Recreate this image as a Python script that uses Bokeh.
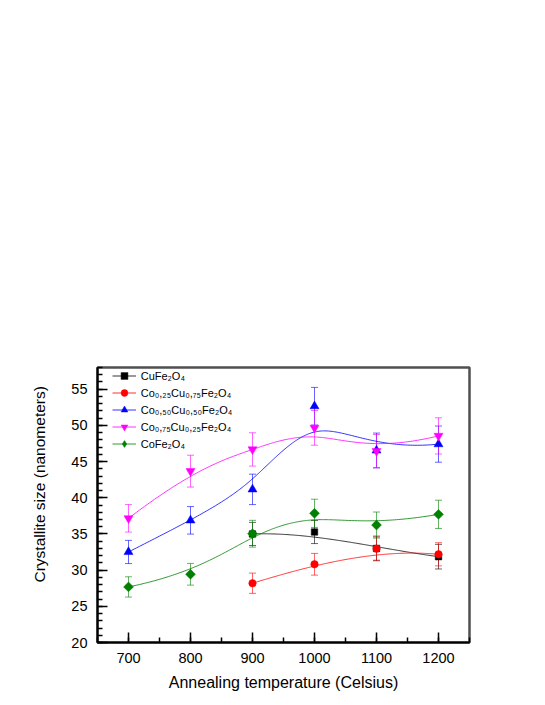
import numpy as np
from bokeh.plotting import figure
from bokeh.models import (ColumnDataSource, Whisker, TeeHead, Legend, LegendItem,
                          SingleIntervalTicker, Title, Range1d)
from bokeh.embed import file_html
from bokeh.resources import INLINE

# ---------------- data ----------------
temps_all = [700, 800, 900, 1000, 1100, 1200]
temps_cu = [900, 1000, 1100, 1200]

cu_vals = [35.0, 35.27, 33.0, 31.86]
cu_err = [1.6, 1.6, 1.7, 1.7]

co25_vals = [28.19, 30.81, 32.97, 32.19]
co25_err = [1.4, 1.5, 1.6, 1.6]

co50_vals = [32.51, 36.88, 41.16, 52.65, 46.54, 47.41]
co50_err = [1.6, 1.9, 2.1, 2.6, 2.4, 2.5]

co75_vals = [37.16, 43.68, 46.68, 49.66, 46.44, 48.55]
co75_err = [1.9, 2.2, 2.3, 2.4, 2.3, 2.5]

cofe_vals = [27.68, 29.43, 35.03, 37.85, 36.23, 37.71]
cofe_err = [1.4, 1.5, 1.85, 1.95, 1.8, 1.95]

labels = ["CuFe₂O₄", "Co₀,₂₅Cu₀,₇₅Fe₂O₄", "Co₀,₅₀Cu₀,₅₀Fe₂O₄",
          "Co₀,₇₅Cu₀,₂₅Fe₂O₄", "CoFe₂O₄"]

x_ticks_interval = 100
y_ticks_interval = 5


def bspline(xs, ys, num=200):
    """Clamped cubic B-spline using the data points as control points."""
    P = np.column_stack([xs, ys]).astype(float)
    n = len(P)
    k = 3
    spans = n - k
    knots = np.r_[np.zeros(k), np.arange(spans + 1), np.full(k, spans)].astype(float)
    ts = np.linspace(0, spans, num)
    out = []
    for t in ts:
        i = int(np.searchsorted(knots, t, side="right") - 1)
        i = min(i, n - 1)
        d = [P[j + i - k].copy() for j in range(k + 1)]
        for r in range(1, k + 1):
            for j in range(k, r - 1, -1):
                den = knots[j + 1 + i - r] - knots[j + i - k]
                a = 0.0 if den == 0 else (t - knots[j + i - k]) / den
                d[j] = (1 - a) * d[j - 1] + a * d[j]
        out.append(d[k])
    out = np.array(out)
    return out[:, 0], out[:, 1]


FONT = "Liberation Sans"

p = figure(output_backend="svg", toolbar_location=None,
           frame_width=372, frame_height=275,
           min_border_left=97, min_border_right=68,
           min_border_top=367, min_border_bottom=60,
           x_range=Range1d(650, 1250), y_range=Range1d(20, 58))
p.background_fill_color = "white"
p.border_fill_color = "white"
p.outline_line_color = "#505050"
p.outline_line_width = 2.5
p.xgrid.visible = False
p.ygrid.visible = False

series = [
    (temps_cu, cu_vals, cu_err, "black", "square", 6.5, 0, "square", 7),
    (temps_cu, co25_vals, co25_err, "#FF0000", "circle", 7.5, 0, "circle", 7.5),
    (temps_all, co50_vals, co50_err, "#0000FF", "triangle", 9, 0, "triangle", 9),
    (temps_all, co75_vals, co75_err, "#FF00FF", "inverted_triangle", 9, 0,
     "inverted_triangle", 9),
    (temps_all, cofe_vals, cofe_err, "#008000", "square", 7, np.pi / 4, "diamond", 10),
]

items = []
for (xs, ys, es, col, mk, sz, ang, lmk, lsz), lab in zip(series, labels):
    src = ColumnDataSource(dict(x=xs, y=ys,
                                upper=[v + e for v, e in zip(ys, es)],
                                lower=[v - e for v, e in zip(ys, es)]))
    w = Whisker(base="x", upper="upper", lower="lower", source=src,
                line_color=col, line_alpha=0.6, line_width=1,
                upper_head=TeeHead(size=7, line_color=col, line_alpha=0.6, line_width=1),
                lower_head=TeeHead(size=7, line_color=col, line_alpha=0.6, line_width=1))
    p.add_layout(w)
    cx, cy = bspline(xs, ys)
    lr = p.line(cx, cy, line_color=col, line_width=1, line_alpha=0.8)
    sr = p.scatter("x", "y", source=src, marker=mk, size=sz, angle=ang,
                   fill_color=col, line_color=col, line_width=0.5)
    # legend-only marker (undefined y, so nothing is drawn in the plot)
    kr = p.scatter(x=[xs[0]], y=[np.nan], marker=lmk, size=lsz,
                   fill_color=col, line_color=col, line_width=0.5)
    items.append(LegendItem(label=lab, renderers=[lr, kr]))

legend = Legend(items=items, location=(14.7, 190),
                glyph_width=24, glyph_height=17, label_height=17,
                spacing=0, padding=0, margin=0, label_standoff=5,
                label_text_font=FONT, label_text_font_size="11px",
                label_text_color="black",
                background_fill_alpha=0, border_line_alpha=0)
p.add_layout(legend)

# axes
for ax in (p.xaxis[0], p.yaxis[0]):
    ax.axis_line_color = "black"
    ax.axis_line_width = 2
    ax.major_tick_in = 10
    ax.major_tick_out = 0
    ax.minor_tick_in = 5
    ax.minor_tick_out = 0
    ax.major_tick_line_color = "black"
    ax.minor_tick_line_color = "black"
    ax.major_tick_line_width = 1.5
    ax.minor_tick_line_width = 1.5
    ax.major_label_text_font = FONT
    ax.major_label_text_font_size = "14.5px"
    ax.major_label_text_color = "black"
    ax.axis_label_text_font = FONT
    ax.axis_label_text_font_size = "16px"
    ax.axis_label_text_font_style = "normal"
    ax.axis_label_text_color = "black"

p.xaxis.ticker = SingleIntervalTicker(interval=x_ticks_interval, num_minor_ticks=2)
p.yaxis.ticker = SingleIntervalTicker(interval=y_ticks_interval, num_minor_ticks=5)
p.xaxis.major_label_standoff = 10
p.yaxis.major_label_standoff = 10
p.xaxis.axis_label = "Annealing temperature (Celsius)"
p.xaxis.axis_label_standoff = 8

ytitle = Title(text="Crystallite size (nanometers)", align="left", offset=60,
               standoff=42, text_font=FONT, text_font_size="15.5px",
               text_font_style="normal", text_color="black")
p.add_layout(ytitle, "left")

open("out.html", "w").write(file_html(p, INLINE))
